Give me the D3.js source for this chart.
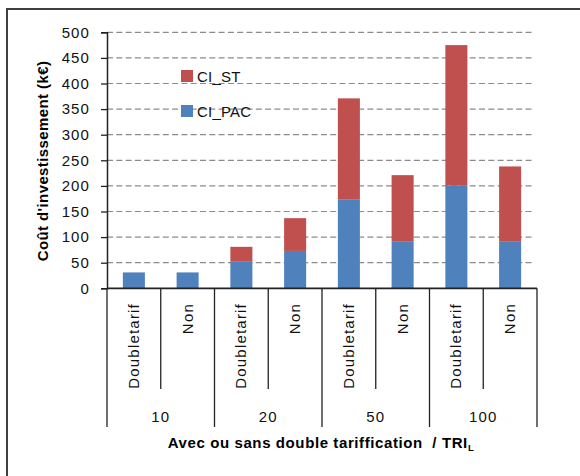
<!DOCTYPE html>
<html><head><meta charset="utf-8">
<script src="https://cdn.jsdelivr.net/npm/d3@7"></script>
<style>
body{margin:0;background:#fff;}
svg{display:block;font-family:"Liberation Sans",Arial,sans-serif;}
</style></head>
<body><svg id="c" width="580" height="476"></svg>
<script>
const groups = ["10","20","50","100"];
const subLabels = ["Doubletarif","Non"];
const ciPAC = [31, 31, 53, 73, 174, 92, 201, 92];
const ciST  = [0, 0, 28, 64, 197, 129, 274, 146];
const yTicks = [0,50,100,150,200,250,300,350,400,450,500];
const seriesNames = ["CI_ST","CI_PAC"];
const colors = {CI_PAC:"#4f81bd", CI_ST:"#c0504d"};

const svg = d3.select("#c");
const L=107, R=537, T=32.3, B=288.3;

svg.append("rect").attr("x",7).attr("y",9).attr("width",600).attr("height",500)
  .attr("fill","none").attr("stroke","#404040").attr("stroke-width",2);

const cats = [];
groups.forEach(g=>subLabels.forEach(s=>cats.push(g+"|"+s)));
const x = d3.scaleBand().domain(cats).range([L,R]).paddingInner(0.59).paddingOuter(0.295);
const xb = d3.scaleBand().domain(cats).range([L,R]);
const xg = d3.scaleBand().domain(groups).range([L,R]);
const y = d3.scaleLinear().domain([0,500]).range([B,T]);

// grid
svg.append("g").selectAll("line").data(yTicks.filter(d=>d>0)).join("line")
  .attr("x1",L).attr("x2",533).attr("y1",d=>y(d)).attr("y2",d=>y(d))
  .attr("stroke","#8c8c8c").attr("stroke-width",1.2).attr("stroke-dasharray","6,3.3");

// bars
const data = cats.map((c,i)=>({c, pac:ciPAC[i], st:ciST[i]}));
const stack = d3.stack().keys(["pac","st"])(data);
const keyName = {pac:"CI_PAC", st:"CI_ST"};
stack.forEach(layer=>{
  svg.append("g").selectAll("rect").data(layer).join("rect")
    .attr("x",d=>x(d.data.c)).attr("width",x.bandwidth())
    .attr("y",d=>y(d[1])).attr("height",d=>Math.max(0,y(d[0])-y(d[1])))
    .attr("fill",colors[keyName[layer.key]]);
});

// y axis
const ya = svg.append("g").attr("transform",`translate(${L},0)`)
  .call(d3.axisLeft(y).tickValues(yTicks).tickSize(6).tickPadding(11));
ya.select(".domain").attr("stroke","#222").attr("stroke-width",1.5);
ya.selectAll(".tick line").attr("stroke","#222").attr("stroke-width",1.3);
ya.selectAll("text").attr("font-size",15).attr("fill","#111").style("letter-spacing","1.1px")
  .attr("font-family","Liberation Sans, Arial, sans-serif");

// x axis line
svg.append("line").attr("x1",L).attr("x2",R).attr("y1",B).attr("y2",B)
  .attr("stroke","#222").attr("stroke-width",1.8);
// inner dividers
const inner = cats.filter((c,i)=>i%2===1).map(c=>xb(c));
svg.append("g").selectAll("line").data(inner).join("line")
  .attr("x1",d=>d).attr("x2",d=>d).attr("y1",B).attr("y2",389)
  .attr("stroke","#222").attr("stroke-width",1.3);
// group dividers
const gdiv = groups.map(g=>xg(g)).concat([R]);
svg.append("g").selectAll("line").data(gdiv).join("line")
  .attr("x1",d=>d).attr("x2",d=>d).attr("y1",B).attr("y2",427)
  .attr("stroke","#222").attr("stroke-width",1.3);

// category labels
svg.append("g").selectAll("text").data(cats).join("text")
  .attr("transform",d=>`translate(${xb(d)+xb.bandwidth()/2+5},303) rotate(-90)`)
  .attr("text-anchor","end").attr("font-size",15).attr("fill","#111")
  .style("letter-spacing","1.2px")
  .text(d=>d.split("|")[1]);

// group labels
svg.append("g").selectAll("text").data(groups).join("text")
  .attr("x",d=>xg(d)+xg.bandwidth()/2).attr("y",422)
  .attr("text-anchor","middle").attr("font-size",15).attr("fill","#111")
  .style("letter-spacing","1.1px").text(d=>d);

// x title
const xt = svg.append("text").attr("x",321).attr("y",448).attr("text-anchor","middle")
  .attr("font-size",15).attr("font-weight","bold").attr("fill","#000")
  .style("letter-spacing","0.6px");
xt.append("tspan").text("Avec ou sans double tariffication\u00a0\u00a0/ TRI");
xt.append("tspan").attr("font-size",9.5).attr("dy",3).text("L");

// y title
svg.append("text").attr("transform","translate(48,161) rotate(-90)")
  .attr("text-anchor","middle").attr("font-size",15).attr("font-weight","bold").attr("fill","#000")
  .style("letter-spacing","0.4px")
  .text("Coût d'investissement (k€)");

// legend
const leg = svg.append("g");
seriesNames.forEach((n,i)=>{
  const yy = 70 + i*35;
  leg.append("rect").attr("x",181).attr("y",yy).attr("width",12).attr("height",12).attr("fill",colors[n]);
  leg.append("text").attr("x",197).attr("y",yy+12).attr("font-size",15).attr("fill","#111")
    .style("letter-spacing","0.2px").text(n);
});
</script></body></html>
